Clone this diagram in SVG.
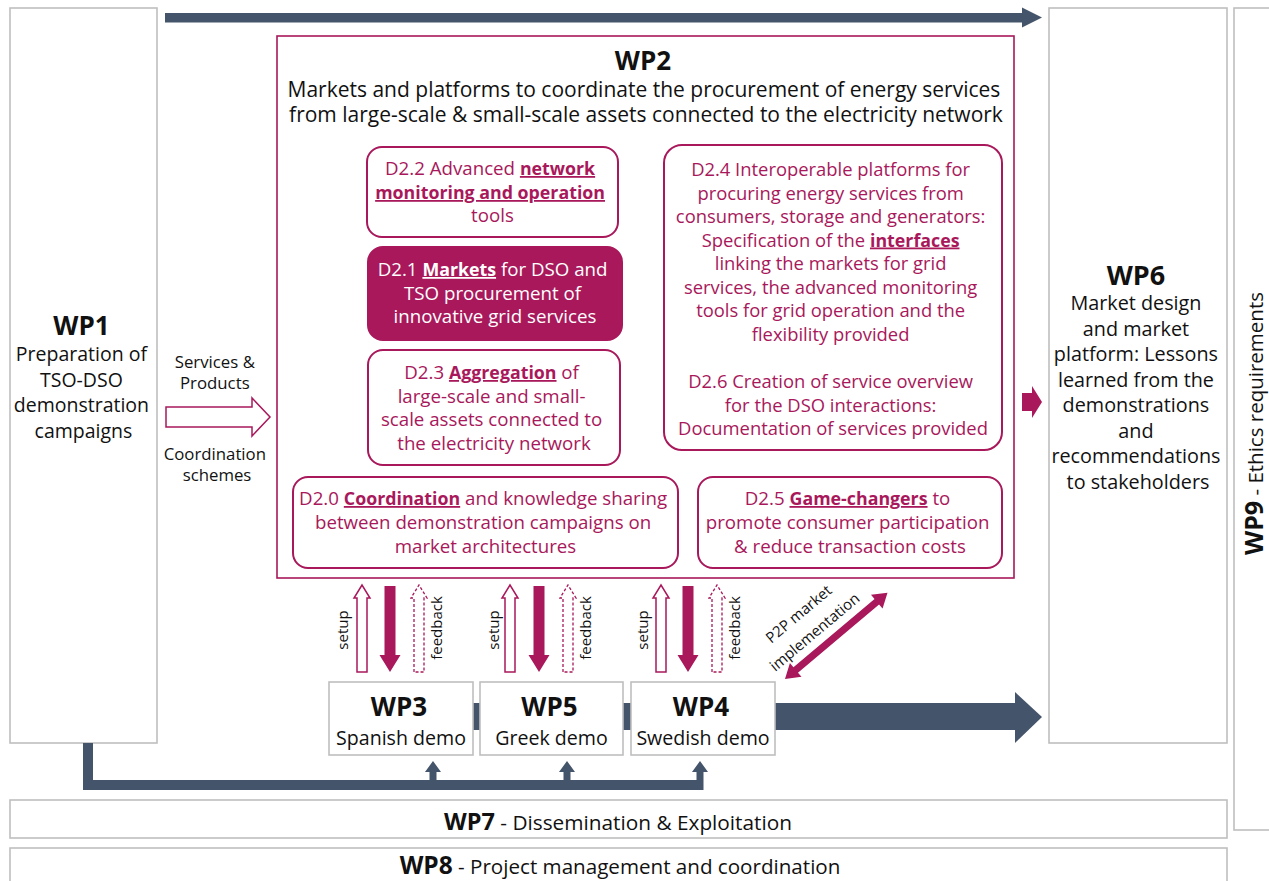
<svg xmlns="http://www.w3.org/2000/svg" width="1269" height="881" viewBox="0 0 1269 881">
  <defs>
    <style>
      .t{font-family:"Open Sans","Noto Sans","Liberation Sans",sans-serif;}
      .box{fill:#ffffff;stroke:#bfbfbf;stroke-width:1.6;}
      .wp2{fill:#ffffff;stroke:#a8185b;stroke-width:1.6;}
      .dbox{fill:#ffffff;stroke:#a8185b;stroke-width:2;}
      .dfill{fill:#a8185b;stroke:#a8185b;stroke-width:2;}
      .pk{fill:#a8185b;}
      .dk{fill:#44546a;}
      .hollow{fill:#ffffff;stroke:#a8185b;stroke-width:1.5;}
      .dash{fill:#ffffff;stroke:#a8185b;stroke-width:1.3;stroke-dasharray:3 2;}
      .b{font-weight:bold;}
      .u{text-decoration:underline;}
      .blk{fill:#111111;}
      .wt{fill:#ffffff;}
      .dt{font-size:18.7px;}
      .dt .b{font-size:17.8px;}
    </style>
  </defs>

  <!-- side and bottom work packages -->
  <g id="wp1">
    <rect class="box" x="10" y="8" width="147" height="735"/>
    <text class="t blk" text-anchor="middle" x="83.5">
      <tspan class="b" x="83.5" y="335" font-size="26">WP1</tspan>
      <tspan x="83.5" y="361" font-size="19.5">Preparation of</tspan>
      <tspan x="83.5" y="386.5" font-size="19.5">TSO-DSO</tspan>
      <tspan x="83.5" y="412" font-size="19.5">demonstration</tspan>
      <tspan x="83.5" y="437.5" font-size="19.5">campaigns</tspan>
    </text>
  </g>

  <g id="wp6">
    <rect class="box" x="1049" y="8" width="178" height="735"/>
    <text class="t blk" text-anchor="middle">
      <tspan class="b" x="1138" y="285" font-size="27">WP6</tspan>
      <tspan x="1138" y="310" font-size="19.8">Market design</tspan>
      <tspan x="1138" y="335.5" font-size="19.8">and market</tspan>
      <tspan x="1138" y="361" font-size="19.8">platform: Lessons</tspan>
      <tspan x="1138" y="386.5" font-size="19.8">learned from the</tspan>
      <tspan x="1138" y="412" font-size="19.8">demonstrations</tspan>
      <tspan x="1138" y="437.5" font-size="19.8">and</tspan>
      <tspan x="1138" y="463" font-size="19.8">recommendations</tspan>
      <tspan x="1138" y="488.5" font-size="19.8">to stakeholders</tspan>
    </text>
  </g>

  <g id="wp9">
    <rect class="box" x="1234" y="8" width="60" height="822"/>
    <text class="t blk" transform="translate(1263,555) rotate(-90)" font-size="20.5"><tspan class="b" font-size="25">WP9</tspan> - Ethics requirements</text>
  </g>

  <g id="wp7">
    <rect class="box" x="10" y="800" width="1217" height="38"/>
    <text class="t blk" text-anchor="middle" x="618" y="830" font-size="20.8"><tspan class="b" font-size="23.5">WP7</tspan> - Dissemination &amp; Exploitation</text>
  </g>

  <g id="wp8">
    <rect class="box" x="10" y="848" width="1217" height="60"/>
    <text class="t blk" text-anchor="middle" x="620" y="874" font-size="20.6"><tspan class="b" font-size="24.5">WP8</tspan> - Project management and coordination</text>
  </g>

  <!-- connectors -->
  <g id="connectors">
    <!-- WP1 to WP6 across the top -->
    <rect class="dk" x="165" y="13" width="858" height="9.5"/>
    <polygon class="dk" points="1022,7.5 1042,17.5 1022,27.5"/>

    <!-- demonstrations to WP6 -->
    <rect class="dk" x="440" y="703" width="576" height="27"/>
    <polygon class="dk" points="1015,692 1042,717 1015,743"/>

    <!-- WP1 feedback line to the demos -->
    <path class="dk" d="M83,743 H93 V780 H429.5 V772 H425 L433,761 L441,772 H436.5 V780 H563.5 V772 H559 L567,761 L575,772 H570.5 V780 H696.5 V772 H692 L700,761 L708,772 H703.5 V790 H83 Z"/>

    <!-- services and products into WP2 -->
    <path class="hollow" d="M166,407 H252 V398 L270,417 L252,436 V427 H166 Z"/>
    <text class="t blk" text-anchor="middle" font-size="16.8">
      <tspan x="217" y="368">Services &amp;</tspan>
      <tspan x="217" y="389">Products</tspan>
      <tspan x="217" y="460">Coordination</tspan>
      <tspan x="217" y="481">schemes</tspan>
    </text>

    <!-- bracket feeding D2.2, D2.1 and D2.3 -->
    <rect class="pk" x="308" y="191" width="12" height="271"/>
    <rect class="pk" x="308" y="191" width="39" height="11"/>
    <polygon class="pk" points="346,185 358,196.5 346,208"/>
    <rect class="pk" x="308" y="287" width="39" height="11"/>
    <polygon class="pk" points="346,281 358,292.5 346,304"/>
    <rect class="pk" x="308" y="402.5" width="39" height="11"/>
    <polygon class="pk" points="346,396.5 358,408 346,419.5"/>

    <!-- D2.2 / D2.1 / D2.3 into D2.4 -->
    <path class="pk" d="M632,181 H642 V173 L652,191.5 L642,210 V202 H632 Z"/>
    <path class="pk" d="M632,283 H642 V275 L652,293.5 L642,312 V304 H632 Z"/>
    <path class="pk" d="M632,397.5 H642 V389.5 L652,408 L642,426.5 V418.5 H632 Z"/>

    <!-- WP2 into WP6 -->
    <path class="pk" d="M1022,393 H1032 V386 L1042,402 L1032,418 V411 H1022 Z"/>

    <!-- setup / feedback between WP2 and the demos -->
    <path class="hollow" d="M357,672 V598 H354 L362,585 L370,598 H367 V672 Z"/>
    <path class="pk" d="M384.5,586 V655 H379.5 L390,672 L400.5,655 H395.5 V586 Z"/>
    <path class="dash" d="M414,672 V598 H411 L419,585 L427,598 H424 V672 Z"/>

    <path class="hollow" d="M505,672 V598 H502 L510,585 L518,598 H515 V672 Z"/>
    <path class="pk" d="M533.5,586 V655 H528.5 L539,672 L549.5,655 H544.5 V586 Z"/>
    <path class="dash" d="M563,672 V598 H560 L568,585 L576,598 H573 V672 Z"/>

    <path class="hollow" d="M656,672 V598 H653 L661,585 L669,598 H666 V672 Z"/>
    <path class="pk" d="M682.5,586 V655 H677.5 L688,672 L698.5,655 H693.5 V586 Z"/>
    <path class="dash" d="M712,672 V598 H709 L717,585 L725,598 H722 V672 Z"/>

    <g class="t blk" font-size="15" text-anchor="middle">
      <text transform="translate(348,630) rotate(-90)">setup</text>
      <text transform="translate(442,628) rotate(-90)">feedback</text>
      <text transform="translate(499,630) rotate(-90)">setup</text>
      <text transform="translate(591,628) rotate(-90)">feedback</text>
      <text transform="translate(648,630) rotate(-90)">setup</text>
      <text transform="translate(740,628) rotate(-90)">feedback</text>
    </g>

    <!-- P2P market link between WP4 and D2.5 -->
    <g transform="translate(785,679) rotate(-40.1)">
      <polygon class="pk" points="0,0 14,-9 14,-3.5 120,-3.5 120,-9 134,0 120,9 120,3.5 14,3.5 14,9"/>
    </g>
    <g class="t blk" font-size="15" text-anchor="middle">
      <text transform="translate(802,618) rotate(-40.1)">P2P market</text>
      <text transform="translate(818,636) rotate(-40.1)">implementation</text>
    </g>
  </g>

  <!-- WP2 and its deliverables -->
  <g id="wp2">
    <rect class="wp2" x="277" y="36" width="737" height="542"/>
    <text class="t blk" text-anchor="middle">
      <tspan class="b" x="645" y="70" font-size="26">WP2</tspan>
      <tspan x="646" y="97" font-size="21">Markets and platforms to coordinate the procurement of energy services</tspan>
      <tspan x="646" y="122" font-size="21">from large-scale &amp; small-scale assets connected to the electricity network</tspan>
    </text>
  </g>

  <g id="d22">
    <rect class="dbox" x="367" y="147" width="251" height="90" rx="15"/>
    <text class="t pk dt" text-anchor="middle">
      <tspan x="492.5" y="175">D2.2 Advanced <tspan class="b u">network</tspan></tspan>
      <tspan class="b u" x="492.5" y="199">monitoring and operation</tspan>
      <tspan x="492.5" y="222">tools</tspan>
    </text>
  </g>

  <g id="d21">
    <rect class="dfill" x="368" y="247" width="254" height="93" rx="15"/>
    <text class="t wt dt" text-anchor="middle">
      <tspan x="495" y="276">D2.1 <tspan class="b u">Markets</tspan> for DSO and</tspan>
      <tspan x="495" y="299.5">TSO procurement of</tspan>
      <tspan x="495" y="323">innovative grid services</tspan>
    </text>
  </g>

  <g id="d23">
    <rect class="dbox" x="368" y="350" width="252" height="115" rx="15"/>
    <text class="t pk dt" text-anchor="middle">
      <tspan x="494" y="379">D2.3 <tspan class="b u">Aggregation</tspan> of</tspan>
      <tspan x="494" y="402.5">large-scale and small-</tspan>
      <tspan x="494" y="426">scale assets connected to</tspan>
      <tspan x="494" y="449.5">the electricity network</tspan>
    </text>
  </g>

  <g id="d24">
    <rect class="dbox" x="664" y="145" width="338" height="305" rx="18"/>
    <text class="t pk dt" text-anchor="middle" style="font-size:18.4px">
      <tspan x="833" y="176">D2.4 Interoperable platforms for</tspan>
      <tspan x="833" y="199.5">procuring energy services from</tspan>
      <tspan x="833" y="223">consumers, storage and generators:</tspan>
      <tspan x="833" y="246.5">Specification of the <tspan class="b u">interfaces</tspan></tspan>
      <tspan x="833" y="270">linking the markets for grid</tspan>
      <tspan x="833" y="293.5">services, the advanced monitoring</tspan>
      <tspan x="833" y="317">tools for grid operation and the</tspan>
      <tspan x="833" y="340.5">flexibility provided</tspan>
      <tspan x="833" y="388">D2.6 Creation of service overview</tspan>
      <tspan x="833" y="411.5">for the DSO interactions:</tspan>
      <tspan x="833" y="435">Documentation of services provided</tspan>
    </text>
  </g>

  <g id="d20">
    <rect class="dbox" x="293" y="477" width="385" height="91" rx="15"/>
    <text class="t pk dt" text-anchor="middle">
      <tspan x="485.5" y="505">D2.0 <tspan class="b u">Coordination</tspan> and knowledge sharing</tspan>
      <tspan x="485.5" y="529">between demonstration campaigns on</tspan>
      <tspan x="485.5" y="553">market architectures</tspan>
    </text>
  </g>

  <g id="d25">
    <rect class="dbox" x="698" y="477" width="304" height="91" rx="15"/>
    <text class="t pk dt" text-anchor="middle">
      <tspan x="850" y="505">D2.5 <tspan class="b u">Game-changers</tspan> to</tspan>
      <tspan x="850" y="529">promote consumer participation</tspan>
      <tspan x="850" y="553">&amp; reduce transaction costs</tspan>
    </text>
  </g>

  <!-- demonstration work packages -->
  <g id="wp3">
    <rect class="box" x="329" y="682" width="144" height="73"/>
    <text class="t blk" text-anchor="middle">
      <tspan class="b" x="401" y="716" font-size="26">WP3</tspan>
      <tspan x="401" y="745" font-size="19.6">Spanish demo</tspan>
    </text>
  </g>
  <g id="wp5">
    <rect class="box" x="480" y="682" width="143" height="73"/>
    <text class="t blk" text-anchor="middle">
      <tspan class="b" x="551.5" y="716" font-size="26">WP5</tspan>
      <tspan x="551.5" y="745" font-size="19.6">Greek demo</tspan>
    </text>
  </g>
  <g id="wp4">
    <rect class="box" x="631" y="682" width="144" height="73"/>
    <text class="t blk" text-anchor="middle">
      <tspan class="b" x="703" y="716" font-size="26">WP4</tspan>
      <tspan x="703" y="745" font-size="19.6">Swedish demo</tspan>
    </text>
  </g>
</svg>
